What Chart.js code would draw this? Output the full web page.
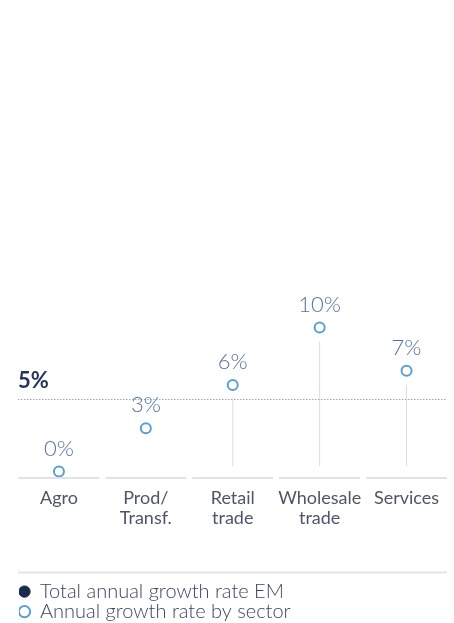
<!DOCTYPE html>
<html>
<head>
<meta charset="utf-8">
<script src="https://cdn.jsdelivr.net/npm/chart.js@4"></script>
<style>
  html, body { margin: 0; padding: 0; background: #fff; }
  #wrap { width: 454px; height: 623px; }
</style>
</head>
<body>
<div id="wrap"><canvas id="growthChart"></canvas></div>
<script>
// sectors and their annual growth (%)
const sectors = ['Agro', ['Prod/', 'Transf.'], ['Retail', 'trade'], ['Wholesale', 'trade'], 'Services'];
const sectorGrowth = [0, 3, 6, 10, 7];
const totalGrowth = 5;  // total annual growth rate EM

const NAVY = '#1b2a4f';
const SKY = '#5a9fd4';
const FONT = 'Lato';

// rule under each sector, stems, the dotted EM line and value labels
const decorations = {
  id: 'decorations',
  afterDatasetsDraw(chart) {
    const {ctx, chartArea, scales: {x, y}} = chart;
    const step = x.getPixelForValue(1) - x.getPixelForValue(0);
    const totalY = y.getPixelForValue(chart.data.datasets[0].data[0]);
    ctx.save();

    // short rules along the bottom, one per sector
    ctx.strokeStyle = '#e1e3e9';
    ctx.lineWidth = 2;
    sectors.forEach((s, i) => {
      const cx = x.getPixelForValue(i);
      ctx.beginPath();
      ctx.moveTo(cx - step / 2 + 3, chartArea.bottom);
      ctx.lineTo(cx + step / 2 - 3, chartArea.bottom);
      ctx.stroke();
    });

    // stems for sectors growing faster than the total
    const meta = chart.getDatasetMeta(1);
    ctx.strokeStyle = '#d9dce4';
    ctx.lineWidth = 1;
    meta.data.forEach((pt, i) => {
      if (sectorGrowth[i] <= totalGrowth) return;
      ctx.beginPath();
      ctx.moveTo(pt.x, pt.y + 14);
      ctx.lineTo(pt.x, chartArea.bottom - 12);
      ctx.stroke();
    });

    // dotted total line + its label
    ctx.strokeStyle = '#9fa4bd';
    ctx.setLineDash([1.5, 1.5]);
    ctx.beginPath();
    ctx.moveTo(chartArea.left + 2.5, totalY);
    ctx.lineTo(chartArea.right - 3, totalY);
    ctx.stroke();
    ctx.setLineDash([]);
    ctx.fillStyle = '#27345a';
    ctx.font = 'bold 22px ' + FONT;
    ctx.textAlign = 'left';
    ctx.textBaseline = 'alphabetic';
    ctx.fillText(totalGrowth + '%', chartArea.left + 2.5, totalY - 12);

    // value labels above the markers
    ctx.fillStyle = '#5570a8';
    ctx.font = '300 22px ' + FONT;
    ctx.textAlign = 'center';
    ctx.textBaseline = 'middle';
    meta.data.forEach((pt, i) => {
      ctx.fillText(sectorGrowth[i] + '%', pt.x, pt.y - 23);
    });
    ctx.restore();
  },
  afterLayout(chart) {
    // drop the legend below the separator rule
    const lg = chart.legend;
    lg.top += 44; lg.bottom += 44;
    lg.left += 3.5; lg.right += 3.5;
  },
  afterDraw(chart) {
    const {ctx, chartArea, legend} = chart;
    ctx.save();
    ctx.strokeStyle = '#e3e5ea';
    ctx.lineWidth = 2;
    ctx.beginPath();
    ctx.moveTo(chartArea.left + 2.5, legend.top - 9);
    ctx.lineTo(chartArea.right - 3, legend.top - 9);
    ctx.stroke();
    ctx.restore();
  }
};

const ctx = document.getElementById('growthChart').getContext('2d');
new Chart(ctx, {
  type: 'line',
  data: {
    labels: sectors,
    datasets: [{
      label: 'Total annual growth rate EM',
      data: sectors.map(() => totalGrowth),
      showLine: false,
      pointRadius: 0,
      pointHoverRadius: 0,
      pointBackgroundColor: NAVY,
      pointBorderColor: NAVY,
      pointBorderWidth: 1
    }, {
      label: 'Annual growth rate by sector',
      data: sectorGrowth,
      showLine: false,
      pointStyle: 'circle',
      pointRadius: 5,
      pointHoverRadius: 5,
      pointBackgroundColor: '#ffffff',
      pointBorderColor: SKY,
      pointBorderWidth: 2
    }]
  },
  options: {
    responsive: true,
    maintainAspectRatio: false,
    animation: false,
    layout: {
      autoPadding: false,
      padding: { top: 39.5, left: 15.5, right: 4, bottom: 35.4 }
    },
    scales: {
      x: {
        offset: true,
        grid: { display: false, drawTicks: false },
        border: { display: false },
        ticks: {
          color: '#4f5568',
          font: { family: FONT, size: 18, lineHeight: 1.1 },
          padding: 10,
          maxRotation: 0,
          autoSkip: false
        },
        // labels sit inside their columns, no extra side padding needed
        afterFit(scale) {
          scale.paddingLeft = 0;
          scale.paddingRight = 0;
        }
      },
      y: { display: false, min: -0.45, max: 30 }
    },
    plugins: {
      legend: {
        position: 'bottom',
        align: 'start',
        labels: {
          usePointStyle: true,
          boxWidth: 11,
          boxHeight: 8,
          padding: 0,
          color: '#3a4566',
          font: { family: FONT, size: 20, weight: '300' }
        }
      },
      tooltip: { enabled: false }
    }
  },
  plugins: [decorations]
});
</script>
</body>
</html>
